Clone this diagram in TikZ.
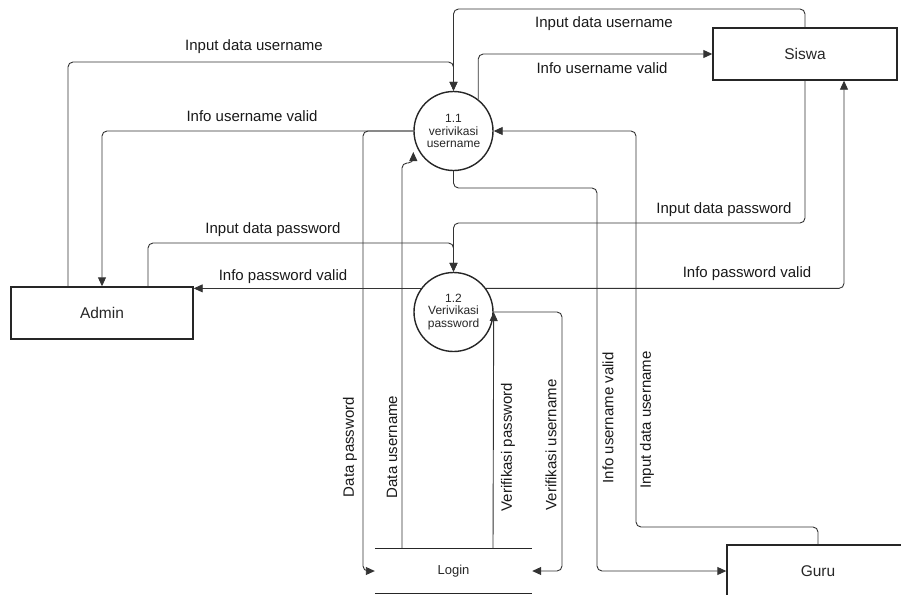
\documentclass[tikz,border=0pt]{standalone}
\usepackage{fontspec}
\setmainfont{Liberation Sans}
\usetikzlibrary{arrows.meta, positioning}

\begin{document}
\begin{tikzpicture}[x=1pt, y=-1pt,
	ent/.style={draw=black!85, line width=1.4pt, minimum width=182pt, minimum height=52pt, text=black!85, font=\fontsize{15.5}{18}\selectfont},
	proc/.style={circle, draw=black!85, line width=1.4pt, minimum size=79pt, inner sep=0pt, align=center, text=black!85, font=\fontsize{12}{12.5}\selectfont},
	flow/.style={draw=black!80, line width=0.9pt, rounded corners=5pt, -{Triangle[length=9pt, width=8pt]}},
	lbl/.style={inner sep=0pt, text=black!90, font=\fontsize{15}{18}\selectfont},
	vlbl/.style={lbl, rotate=90}]
				\useasboundingbox (0,0) rectangle (901,594);
				\clip (0,0) rectangle (901,594);

				% entitas
				\node[ent] (admin) at (102,313) {Admin};
				\node[ent, minimum width=184pt] (siswa) at (805,54) {Siswa};
				\node[ent] (guru) at (818,571) {Guru};

				% proses
				\node[proc] (p1) at (453.5,131) {1.1\\verivikasi\\username};
				\node[proc] (p2) at (453.5,312) {1.2\\Verivikasi\\password};

				% data store
				\node[minimum width=157pt, minimum height=45pt, text=black!85, font=\fontsize{13}{15}\selectfont] (login) at (453.5,571) {Login};
				\draw[line width=1.4pt, black!85] (login.north west) -- (login.north east);
				\draw[line width=1.4pt, black!85] (login.south west) -- (login.south east);

				% aliran 1.1
				\draw[flow] ([xshift=-34pt]admin.north) |- (453.5,62) -- (p1.north);
				\draw[flow] (siswa.north) |- (453.5,9) -- (p1.north);
				\draw[flow] (p1.52) |- (siswa.west);
				\draw[flow] (p1.west) -| (admin.north);
				\draw[flow] (p1.west) -| (363,571) -- (login.west);
				\draw[flow] ([xshift=-51.5pt]login.north) -- (402,163) -| ([yshift=-21pt]p1.west);
				\draw[flow] (p1.south) -- (453.5,188) -| (597,571) -- (guru.west);
				\draw[flow] (guru.north) -- (818,527) -| (636,131) -- (p1.east);

				% aliran 1.2
				\draw[flow] (siswa.south) |- (453.5,223) -- (p2.north);
				\draw[flow] ([xshift=46pt]admin.north) |- (453.5,243) -- (p2.north);
				\draw[flow] (p2.144) -- (p2.144 -| admin.north east);
				\draw[flow] (p2.36) -| ([xshift=39pt]siswa.south);
				\draw[flow] ([xshift=39.5pt]login.north) -- (p2.east);
				\draw[flow] (p2.east) -| (562,571) -- (login.east);

				% label
				\node[lbl] (l-adm-iu) at (254,47) {Input data username};
				\node[lbl] (l-adm-vu) at (252,116) {Info username valid};
				\node[lbl] (l-adm-ip) at (273,230) {Input data password};
				\node[lbl] (l-adm-vp) at (283,277) {Info password valid};
				\node[lbl] (l-sis-iu) at (604,24) {Input data username};
				\node[lbl] (l-sis-vu) at (602,68) {Info username valid};
				\node[lbl] (l-sis-ip) at (724,210) {Input data password};
				\node[lbl] (l-sis-vp) at (747,274) {Info password valid};
				\node[vlbl] (l-dp) at (350,447) {Data password};
				\node[vlbl] (l-du) at (392,447) {Data username};
				\node[vlbl] (l-vp) at (508,447) {Verifikasi password};
				\node[vlbl] (l-vu) at (551,445) {Verifikasi username};
				\node[vlbl] (l-gur-vu) at (608,418) {Info username valid};
				\node[vlbl] (l-gur-iu) at (647,420) {Input data username};
			\end{tikzpicture}
\end{document}
